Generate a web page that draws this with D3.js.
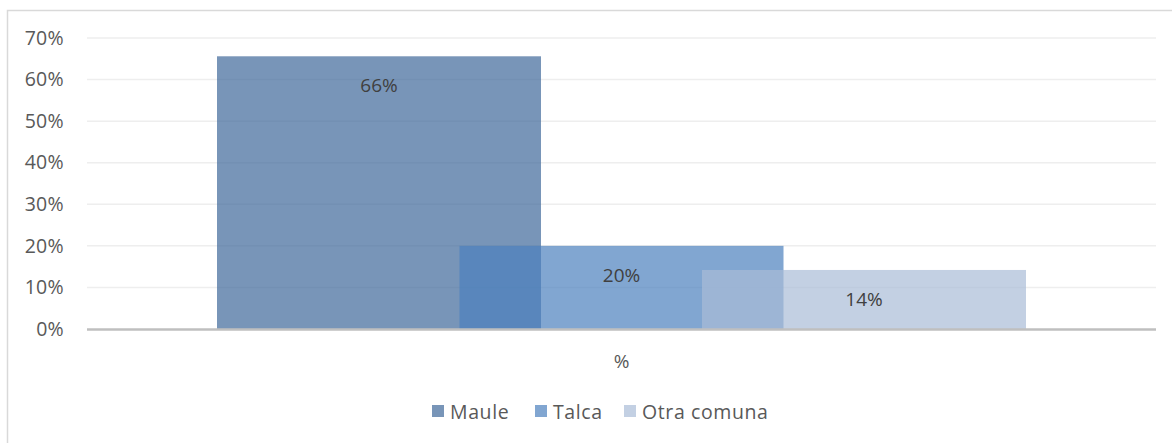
<!DOCTYPE html>
<html><head><meta charset="utf-8">
<script src="https://cdn.jsdelivr.net/npm/d3@7"></script>
<style>body{margin:0;background:#fff}svg{display:block;font-family:"Open Sans",sans-serif}</style>
</head><body><svg id="c" width="1172" height="443"></svg>
<script>
const category = "%";
const series = ["Maule","Talca","Otra comuna"];
const values = [0.656, 0.20, 0.142];
const labels = ["66%","20%","14%"];
const yTicks = [0,0.1,0.2,0.3,0.4,0.5,0.6,0.7];
const colors = ["#3e689a","#4c80bd","#a9bcd7"];

const svg = d3.select("#c");
svg.append("path").attr("d","M7.5,443 V10.5 H1172").attr("fill","none").attr("stroke","#d9d9d9").attr("stroke-width",1.5);

const x0 = d3.scaleBand().domain([category]).range([87,1156]);
const y = d3.scaleLinear().domain([0,0.7]).range([329,38]);
const step = 242.5, barW = 324;
const cx = x0(category) + x0.bandwidth()/2;
const xs = d3.scaleLinear().domain([0,2]).range([cx-step, cx+step]);

svg.append("g").selectAll("line").data(yTicks.slice(1)).join("line")
  .attr("x1",87).attr("x2",1156).attr("y1",d=>y(d)).attr("y2",d=>y(d))
  .attr("stroke","#eeeeee").attr("stroke-width",1.5);

const yAxis = d3.axisLeft(y).tickValues(yTicks).tickFormat(d3.format(".0%")).tickSize(0).tickPadding(0);
const ga = svg.append("g").attr("transform","translate(64,0)").call(yAxis);
ga.select(".domain").remove();
ga.selectAll("text").attr("font-size",19.5).attr("fill","#595959").attr("font-family","'Open Sans',sans-serif").attr("letter-spacing",0.3);

svg.append("g").selectAll("rect").data(values).join("rect")
  .attr("x",(d,i)=>xs(i)-barW/2).attr("width",barW)
  .attr("y",d=>y(d)).attr("height",d=>y(0)-y(d))
  .attr("fill",(d,i)=>colors[i]).attr("fill-opacity",0.7);

svg.append("line").attr("x1",87).attr("x2",1156).attr("y1",329.5).attr("y2",329.5).attr("stroke","#bfbfbf").attr("stroke-width",2.5);

svg.append("g").selectAll("text").data(values).join("text")
  .attr("x",(d,i)=>xs(i)).attr("y",d=>y(d)+36).attr("text-anchor","middle")
  .attr("font-size",19).attr("fill","#404040").text((d,i)=>labels[i]);

svg.append("text").attr("x",cx).attr("y",368).attr("text-anchor","middle").attr("font-size",19).attr("fill","#595959").text(category);

const legX = [432,535,624];
const lg = svg.append("g").selectAll("g").data(series).join("g").attr("transform",(d,i)=>`translate(${legX[i]},405)`);
lg.append("rect").attr("width",12).attr("height",12).attr("fill",(d,i)=>colors[i]).attr("fill-opacity",0.7);
lg.append("text").attr("x",18).attr("y",13.5).attr("font-size",19.5).attr("letter-spacing",0.6).attr("fill","#595959").text(d=>d);
</script></body></html>
